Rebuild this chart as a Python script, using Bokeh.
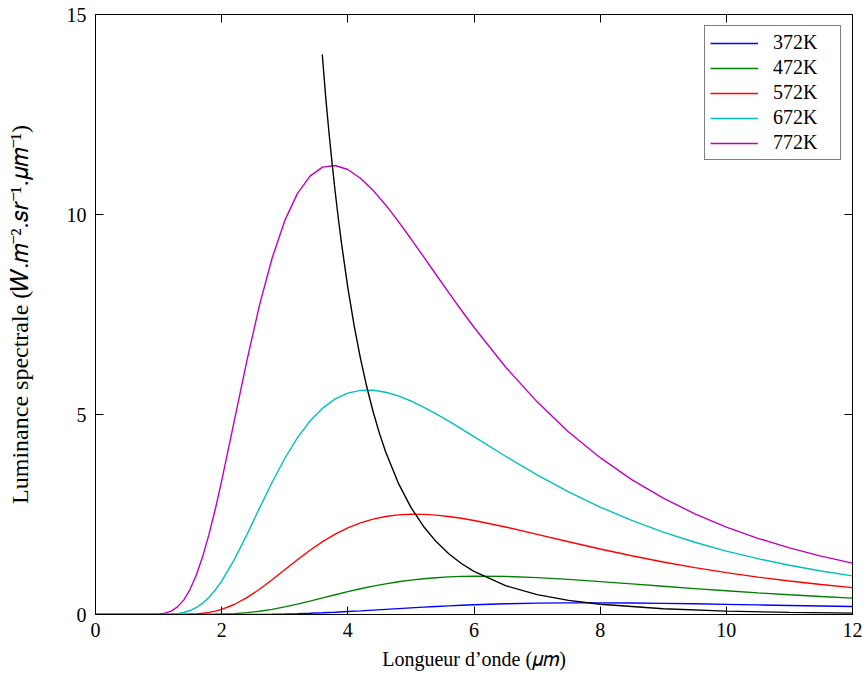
from bokeh.plotting import figure
from bokeh.models import Range1d, LinearAxis, FixedTicker, Legend, LegendItem, CustomLabelingPolicy
from bokeh.embed import file_html
from bokeh.resources import INLINE

# wavelength grid (µm)
wl = [0.0, 0.5, 0.8,
      1.0, 1.1, 1.2, 1.3, 1.4, 1.5, 1.6, 1.7, 1.8, 1.9, 2.0,
      2.2, 2.4, 2.6, 2.8, 3.0, 3.2, 3.4, 3.6, 3.8, 4.0,
      4.2, 4.4, 4.6, 4.8, 5.0, 5.2, 5.4, 5.6, 5.8, 6.0,
      6.5, 7.0, 7.5, 8.0, 8.5, 9.0, 9.5, 10.0, 10.5, 11.0, 11.5, 12.0]

t772 = [0, 0, 0.0003,
        0.0096, 0.0324, 0.0861, 0.1906, 0.3664, 0.630, 0.9923, 1.454, 2.008, 2.643, 3.340,
        4.840, 6.347, 7.733, 8.912, 9.846, 10.523, 10.959, 11.183, 11.226, 11.124,
        10.906, 10.604, 10.239, 9.828, 9.393, 8.947, 8.494, 8.046, 7.606, 7.181,
        6.188, 5.316, 4.563, 3.920, 3.373, 2.910, 2.518, 2.186, 1.904, 1.664, 1.460, 1.284]
t672 = [0, 0, 0,
        0.0006, 0.0026, 0.0085, 0.0226, 0.0505, 0.0992, 0.1753, 0.2843, 0.4301, 0.6139, 0.8345,
        1.3713, 1.9972, 2.659, 3.307, 3.900, 4.415, 4.835, 5.159, 5.389, 5.534,
        5.602, 5.606, 5.557, 5.464, 5.338, 5.187, 5.015, 4.832, 4.641, 4.445,
        3.956, 3.490, 3.066, 2.686, 2.351, 2.059, 1.806, 1.586, 1.396, 1.232, 1.089, 0.966]
t572 = [0, 0, 0,
        0.0, 0.0001, 0.0004, 0.0013, 0.0035, 0.0082, 0.0169, 0.0315, 0.0538, 0.0856, 0.1284,
        0.2502, 0.4199, 0.6302, 0.8682, 1.1193, 1.3695, 1.6062, 1.8210, 2.0080, 2.1646,
        2.2897, 2.3841, 2.4498, 2.4895, 2.5063, 2.5038, 2.4837, 2.4502, 2.4049, 2.3507,
        2.1872, 2.0041, 1.8176, 1.6372, 1.4679, 1.3131, 1.1728, 1.0474, 0.9355, 0.8364, 0.7485, 0.6708]
t472 = [0, 0, 0,
        0.0, 0.0, 0.0, 0.0, 0.0001, 0.0002, 0.0006, 0.0014, 0.0028, 0.0052, 0.0089,
        0.0222, 0.0456, 0.0811, 0.1294, 0.1894, 0.2589, 0.3349, 0.4141, 0.4935, 0.5704,
        0.6426, 0.7085, 0.7670, 0.8174, 0.8596, 0.8940, 0.9203, 0.9395, 0.9521, 0.9584,
        0.9520, 0.9221, 0.8770, 0.8230, 0.7647, 0.7058, 0.6481, 0.5931, 0.5416, 0.4937, 0.4498, 0.4096]
t372 = [0, 0, 0,
        0.0, 0.0, 0.0, 0.0, 0.0, 0.0, 0.0, 0.0, 0.0, 0.0, 0.0002,
        0.0005, 0.0015, 0.0035, 0.0069, 0.0123, 0.0200, 0.0301, 0.0425, 0.0571, 0.0735,
        0.0913, 0.1099, 0.1290, 0.1480, 0.1667, 0.1845, 0.2013, 0.2168, 0.2309, 0.2434,
        0.2681, 0.2835, 0.2907, 0.2913, 0.2866, 0.2782, 0.2670, 0.2543, 0.2406, 0.2265, 0.2124, 0.1985]

# locus of the maxima (Wien)
peak_x = [3.595, 3.65, 3.7, 3.75, 3.8, 3.85, 3.9, 4.0, 4.1, 4.2, 4.3, 4.4, 4.5, 4.6, 4.8, 5.0,
          5.2, 5.4, 5.6, 5.8, 6.0, 6.5, 7.0, 7.5, 8.0, 9.0, 10.0, 11.0, 12.0]
peak_y = [14.0, 12.92, 12.07, 11.285, 10.562, 9.894, 9.276, 8.173, 7.223, 6.404, 5.693, 5.075,
          4.535, 4.063, 3.285, 2.678, 2.201, 1.823, 1.520, 1.275, 1.076, 0.721, 0.498, 0.353,
          0.255, 0.142, 0.0837, 0.052, 0.0336]

labels = ["372K", "472K", "572K", "672K", "772K"]
series = [t372, t472, t572, t672, t772]
colors = ["#0000ff", "#008000", "#ff0000", "#00bfbf", "#bf00bf"]

x_ticks = [0, 2, 4, 6, 8, 10, 12]
y_ticks = [0, 5, 10, 15]

FONT = "Liberation Serif"
FS = "20px"

p = figure(width=867, height=680, output_backend="svg", toolbar_location=None,
           x_range=Range1d(0, 12), y_range=Range1d(0, 15),
           min_border_left=95, min_border_right=12, min_border_top=14, min_border_bottom=66)
p.xgrid.visible = False
p.ygrid.visible = False
p.outline_line_color = "black"
p.outline_line_width = 1
p.background_fill_color = "white"
p.border_fill_color = "white"

items = []
for lab, ys, c in zip(labels, series, colors):
    r = p.line(wl, ys, line_color=c, line_width=1.4)
    items.append(LegendItem(label=lab, renderers=[r]))

p.line(peak_x, peak_y, line_color="black", line_width=1.4)

for ax in (p.xaxis[0], p.yaxis[0]):
    ax.major_tick_in = 8
    ax.major_tick_out = 0
    ax.minor_tick_line_color = None
    ax.axis_line_color = "black"
    ax.major_tick_line_color = "black"
    ax.major_label_text_font = FONT
    ax.major_label_text_font_size = FS
    ax.major_label_text_color = "black"
    ax.axis_label_text_font = FONT
    ax.axis_label_text_font_size = FS
    ax.axis_label_text_font_style = "normal"
    ax.axis_label_text_color = "black"

p.xaxis[0].ticker = FixedTicker(ticks=x_ticks)
p.yaxis[0].ticker = FixedTicker(ticks=y_ticks)
p.xaxis[0].major_label_standoff = 8
p.yaxis[0].major_label_standoff = 9
p.xaxis[0].axis_label = "Longueur d\u2019onde (\U0001D707\U0001D45A)"
p.yaxis[0].axis_label = "Luminance spectrale (\U0001D44A.\U0001D45A\u207B\u00B2.\U0001D460\U0001D45F\u207B\u00B9.\U0001D707\U0001D45A\u207B\u00B9)"
p.yaxis[0].axis_label_text_font_size = "24px"
p.xaxis[0].axis_label_standoff = 8
p.yaxis[0].axis_label_standoff = 31

top = LinearAxis(ticker=FixedTicker(ticks=x_ticks), major_tick_in=8, major_tick_out=0,
                 minor_tick_line_color=None, axis_line_color=None,
                 major_label_policy=CustomLabelingPolicy(code="return new Set()"),
                 major_label_standoff=0)
right = LinearAxis(ticker=FixedTicker(ticks=y_ticks), major_tick_in=8, major_tick_out=0,
                   minor_tick_line_color=None, axis_line_color=None,
                   major_label_policy=CustomLabelingPolicy(code="return new Set()"),
                   major_label_standoff=0)
p.add_layout(top, "above")
p.add_layout(right, "right")

legend = Legend(items=items, location="top_right")
legend.label_text_font = FONT
legend.label_text_font_size = FS
legend.label_text_color = "black"
legend.border_line_color = "black"
legend.border_line_width = 1
legend.background_fill_color = "white"
legend.background_fill_alpha = 1
legend.glyph_width = 48
legend.glyph_height = 20
legend.label_height = 20
legend.label_width = 62
legend.label_standoff = 15
legend.spacing = 2
legend.padding = 5
legend.margin = 11
p.add_layout(legend, "center")

open("out.html", "w").write(file_html(p, INLINE))
